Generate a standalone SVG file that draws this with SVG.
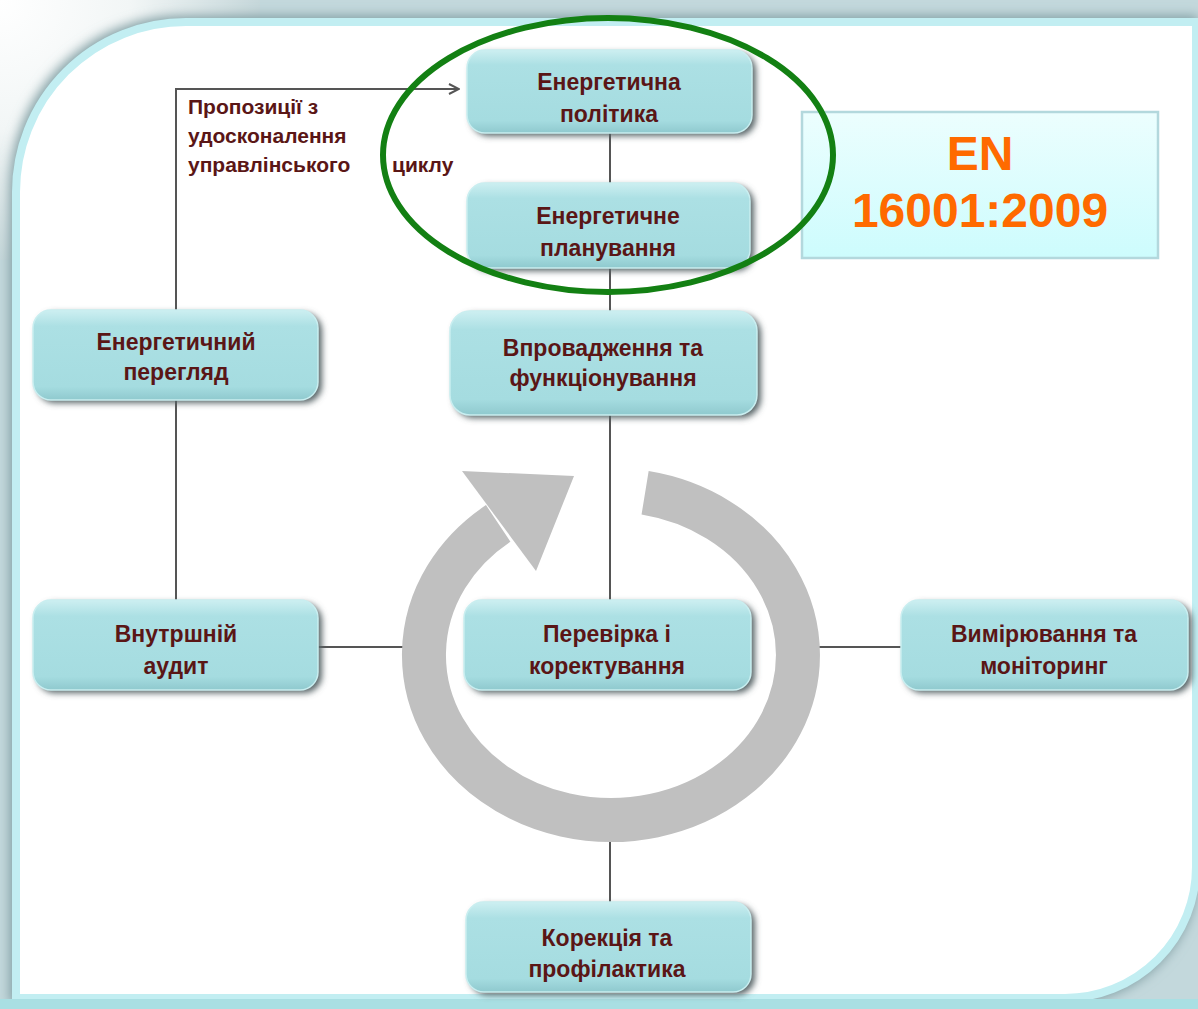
<svg xmlns="http://www.w3.org/2000/svg" width="1198" height="1009" viewBox="0 0 1198 1009">
<defs>
<style>
.nt{font-family:"Liberation Sans",Arial,sans-serif;font-weight:bold;font-size:23px;fill:#5a1616;text-anchor:middle}
.lb{font-family:"Liberation Sans",Arial,sans-serif;font-weight:bold;font-size:21px;fill:#5a1616}
.en{font-family:"Liberation Sans",Arial,sans-serif;font-weight:bold;font-size:48px;fill:#ff6a00;text-anchor:middle}
.cn{stroke:#555;stroke-width:2;fill:none}
.box{fill:url(#nodeGrad);stroke:#c9eef0;stroke-width:1.5}
.sh{fill:#566466;filter:url(#blur)}
</style>
<linearGradient id="nodeGrad" x1="0" y1="0" x2="0" y2="1">
<stop offset="0" stop-color="#cdeff1"/>
<stop offset="0.18" stop-color="#ace0e4"/>
<stop offset="0.85" stop-color="#a5dce0"/>
<stop offset="1" stop-color="#8fc9ce"/>
</linearGradient>
<linearGradient id="enGrad" x1="0" y1="0" x2="0" y2="1">
<stop offset="0" stop-color="#ecfefe"/>
<stop offset="1" stop-color="#cdfcfd"/>
</linearGradient>
<radialGradient id="cornerGrad" cx="0" cy="0" r="1">
<stop offset="0" stop-color="#ffffff"/>
<stop offset="0.5" stop-color="#f2f6f6"/>
<stop offset="1" stop-color="#c6d7da"/>
</radialGradient>
<filter id="blur" x="-10%" y="-20%" width="120%" height="140%">
<feGaussianBlur stdDeviation="3"/>
</filter>
<filter id="blur2" x="-10%" y="-10%" width="120%" height="120%">
<feGaussianBlur stdDeviation="6"/>
</filter>
<marker id="chev" viewBox="0 0 12 12" refX="11" refY="6" markerWidth="12" markerHeight="12" markerUnits="userSpaceOnUse" orient="auto">
<polyline points="1,1 11,6 1,11" fill="none" stroke="#555" stroke-width="2"/>
</marker>
</defs>

<g id="background">
<rect x="0" y="0" width="1198" height="1009" fill="#c3d8dc"/>
<rect x="0" y="0" width="260" height="260" fill="url(#cornerGrad)"/>
<path d="M10,1009 L10,190 A172,172 0 0 1 182,16 L1198,16 L1198,867 A133,133 0 0 1 1065,1003 L10,1003 Z" fill="#7f9da2" filter="url(#blur2)"/>
<path d="M16,1000 L16,192 A170,170 0 0 1 186,22 L1196,22 L1196,867 A131,131 0 0 1 1065,998 L16,998 Z" fill="#ffffff" stroke="#c2eef2" stroke-width="8"/>
<rect x="0" y="999" width="1198" height="10" fill="#a9dfe3"/>
</g>

<g id="connectors">
<polyline class="cn" points="176,310 176,89 459,89" marker-end="url(#chev)"/>
<line class="cn" x1="176" y1="400" x2="176" y2="600"/>
<line class="cn" x1="610" y1="133" x2="610" y2="183"/>
<line class="cn" x1="610" y1="268" x2="610" y2="311"/>
<line class="cn" x1="610" y1="415" x2="610" y2="600"/>
<line class="cn" x1="610" y1="836" x2="610" y2="902"/>
<line class="cn" x1="318" y1="647" x2="406" y2="647"/>
<line class="cn" x1="816" y1="647" x2="901" y2="647"/>
</g>

<g id="cycle-arrow">
<path d="M645.1,492.8 A187,165 0 1 1 498.2,523.4" fill="none" stroke="#c0c0c0" stroke-width="44"/>
<polygon points="462,471 574,476 536,571" fill="#c0c0c0"/>
</g>

<g id="label-proposals">
<text class="lb" x="188" y="114">Пропозиції з</text>
<text class="lb" x="188" y="143">удосконалення</text>
<text class="lb" x="188" y="172">управлінського</text>
<text class="lb" x="392" y="172">циклу</text>
</g>

<g id="node-policy">
<rect class="sh" x="471" y="53" width="285" height="83" rx="18"/>
<rect class="box" x="467" y="50" width="285" height="83" rx="18"/>
<text class="nt" x="609" y="90">Енергетична</text>
<text class="nt" x="609" y="122">політика</text>
</g>

<g id="node-planning">
<rect class="sh" x="471" y="186" width="283" height="85" rx="18"/>
<rect class="box" x="467" y="183" width="283" height="85" rx="18"/>
<text class="nt" x="608" y="224">Енергетичне</text>
<text class="nt" x="608" y="256">планування</text>
</g>

<g id="node-review">
<rect class="sh" x="37" y="313" width="285" height="90" rx="18"/>
<rect class="box" x="33" y="310" width="285" height="90" rx="18"/>
<text class="nt" x="176" y="350">Енергетичний</text>
<text class="nt" x="176" y="380">перегляд</text>
</g>

<g id="node-implementation">
<rect class="sh" x="454" y="314" width="307" height="104" rx="20"/>
<rect class="box" x="450" y="311" width="307" height="104" rx="20"/>
<text class="nt" x="603" y="356">Впровадження та</text>
<text class="nt" x="603" y="386">функціонування</text>
</g>

<g id="node-audit">
<rect class="sh" x="37" y="603" width="285" height="90" rx="18"/>
<rect class="box" x="33" y="600" width="285" height="90" rx="18"/>
<text class="nt" x="176" y="642">Внутршній</text>
<text class="nt" x="176" y="674">аудит</text>
</g>

<g id="node-check">
<rect class="sh" x="468" y="603" width="287" height="90" rx="18"/>
<rect class="box" x="464" y="600" width="287" height="90" rx="18"/>
<text class="nt" x="607" y="642">Перевірка і</text>
<text class="nt" x="607" y="674">коректування</text>
</g>

<g id="node-measure">
<rect class="sh" x="905" y="603" width="287" height="90" rx="18"/>
<rect class="box" x="901" y="600" width="287" height="90" rx="18"/>
<text class="nt" x="1044" y="642">Вимірювання та</text>
<text class="nt" x="1044" y="674">моніторинг</text>
</g>

<g id="node-correction">
<rect class="sh" x="470" y="905" width="285" height="90" rx="18"/>
<rect class="box" x="466" y="902" width="285" height="90" rx="18"/>
<text class="nt" x="607" y="946">Корекція та</text>
<text class="nt" x="607" y="977">профілактика</text>
</g>

<g id="standard-box">
<rect x="802" y="112" width="356" height="146" fill="url(#enGrad)" stroke="#b3d8dd" stroke-width="2.5"/>
<text class="en" x="980" y="170">EN</text>
<text class="en" x="980" y="227">16001:2009</text>
</g>

<g id="highlight-ellipse">
<ellipse cx="608" cy="155" rx="225" ry="137" fill="none" stroke="#138013" stroke-width="6"/>
</g>
</svg>
